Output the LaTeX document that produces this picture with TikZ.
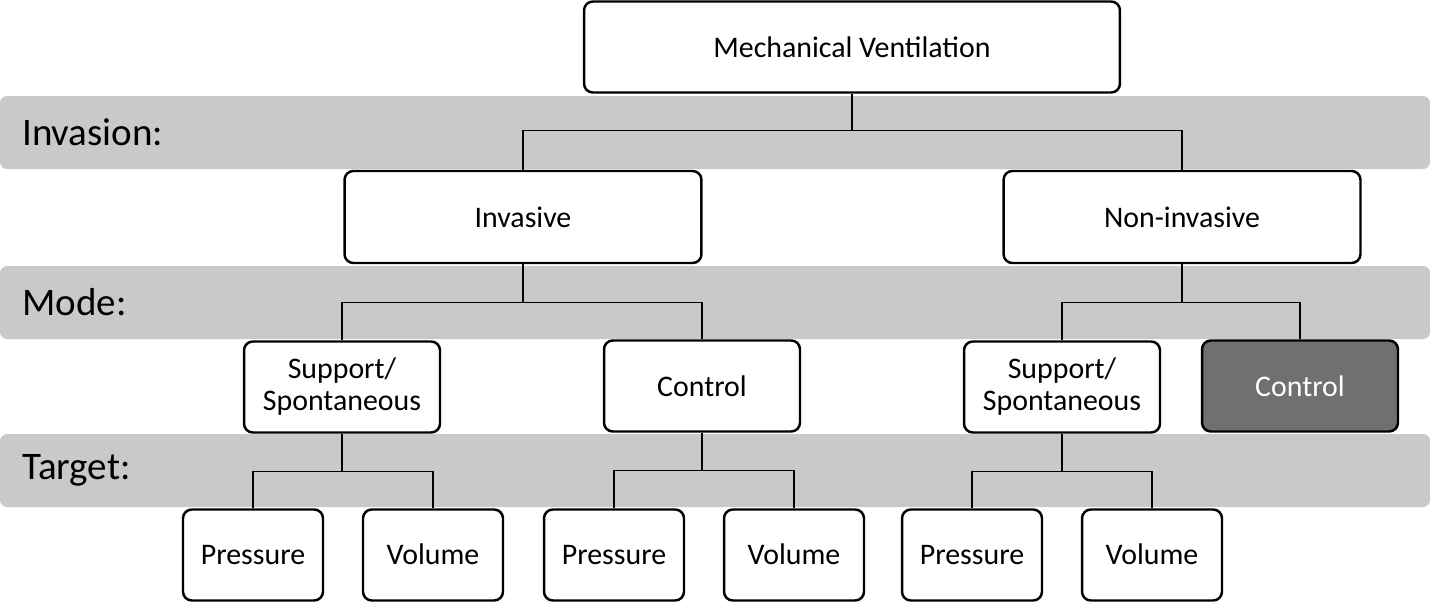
\documentclass[tikz,border=0pt]{standalone}
\usepackage{fontspec}
\setmainfont{Carlito}
\usetikzlibrary{positioning}

\begin{document}
\begin{tikzpicture}[x=0.02cm,y=-0.02cm,
    band/.style={fill=black!21,draw=none,rounded corners=4pt},
    bandlabel/.style={anchor=west,font=\fontsize{22.2}{26}\selectfont},
    box/.style={draw=black,line width=1.4pt,rounded corners=5pt,fill=white,
        align=center,font=\fontsize{17}{18.2}\selectfont,inner sep=0pt},
    topbox/.style={box,minimum width=10.72cm,minimum height=1.82cm},
    invbox/.style={box,minimum width=7.14cm,minimum height=1.84cm},
    modebox/.style={box,minimum width=3.92cm,minimum height=1.82cm},
    targetbox/.style={box,minimum width=2.8cm,minimum height=1.82cm,
        text height=2.5ex,text depth=0.3ex},
    darkbox/.style={modebox,fill=black!56,text=white},
    link/.style={draw=black,line width=0.8pt}]
            \useasboundingbox (0,0) rectangle (1430,605);

            % Grey bands
            \fill[band] (0,96) rectangle (1430,169);
            \fill[band] (0,266) rectangle (1430,339);
            \fill[band] (0,434) rectangle (1430,507);
            \node[bandlabel] (lblinv) at (16,132) {Invasion:};
            \node[bandlabel] (lblmode) at (16,302) {Mode:};
            \node[bandlabel] (lbltarget) at (16,470) {Target:};

            % Boxes
            \node[topbox] (mv) at (852,47) {Mechanical Ventilation};
            \node[invbox] (inv) at (523,217) {Invasive};
            \node[invbox] (ninv) at (1182,217) {Non-invasive};
            \node[modebox] (sup1) at (342,387) {Support/\\Spontaneous};
            \node[modebox] (ctl1) at (702,386) {Control};
            \node[modebox] (sup2) at (1062,387) {Support/\\Spontaneous};
            \node[darkbox] (ctl2) at (1300,386) {Control};
            \node[targetbox] (p1) at (253,555) {Pressure};
            \node[targetbox] (v1) at (433,555) {Volume};
            \node[targetbox] (p2) at (614,555) {Pressure};
            \node[targetbox] (v2) at (794,555) {Volume};
            \node[targetbox] (p3) at (972,555) {Pressure};
            \node[targetbox] (v3) at (1152,555) {Volume};

            % Connectors
            \draw[link] (mv.south) -- ++(0,37) coordinate (j0);
            \draw[link] (inv.north) |- (j0) -| (ninv.north);
            \draw[link] (inv.south) -- ++(0,38) coordinate (j1);
            \draw[link] (sup1.north) |- (j1) -| (ctl1.north);
            \draw[link] (ninv.south) -- ++(0,38) coordinate (j2);
            \draw[link] (sup2.north) |- (j2) -| (ctl2.north);
            \draw[link] (sup1.south) -- ++(0,38) coordinate (j3);
            \draw[link] (p1.north) |- (j3) -| (v1.north);
            \draw[link] (ctl1.south) -- ++(0,38) coordinate (j4);
            \draw[link] (p2.north) |- (j4) -| (v2.north);
            \draw[link] (sup2.south) -- ++(0,38) coordinate (j5);
            \draw[link] (p3.north) |- (j5) -| (v3.north);
\end{tikzpicture}
\end{document}
